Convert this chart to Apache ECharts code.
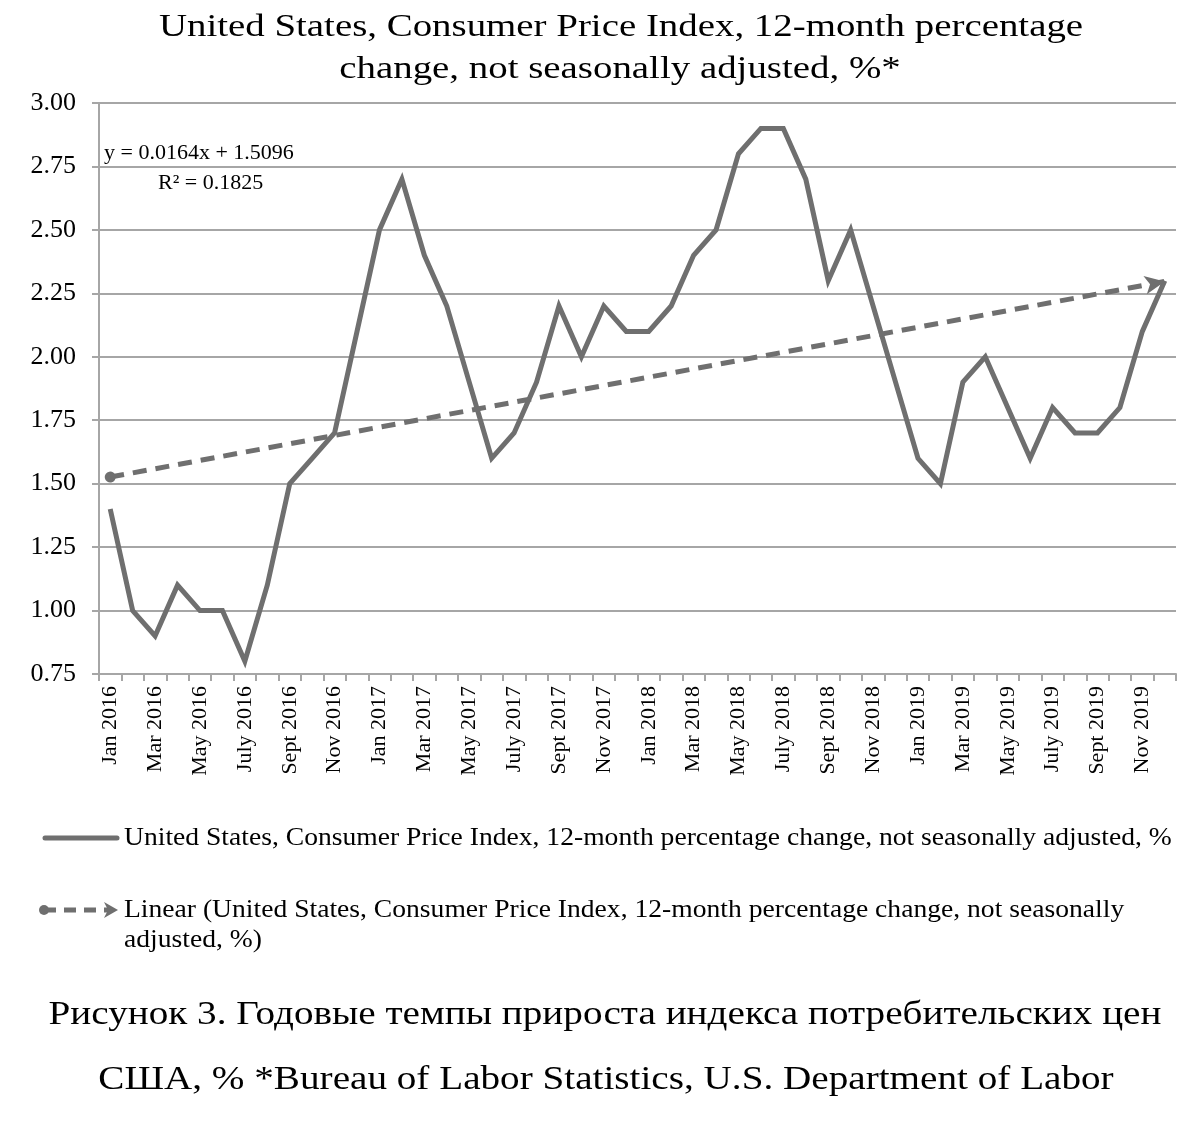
<!DOCTYPE html>
<html><head><meta charset="utf-8">
<script src="https://cdn.jsdelivr.net/npm/echarts@6/dist/echarts.min.js"></script>
<style>html,body{margin:0;padding:0;background:#fff}#c{width:1193px;height:1122px}</style>
</head><body><div id="c"></div>
<script>
const months = ['Jan','Feb','Mar','Apr','May','June','July','Aug','Sept','Oct','Nov','Dec'];
const years = [2016, 2017, 2018, 2019];
const categories = [];
years.forEach(y => months.forEach(m => categories.push(m + ' ' + y)));
const cpiValues = [
  1.4, 1.0, 0.9, 1.1, 1.0, 1.0, 0.8, 1.1, 1.5, 1.6, 1.7, 2.1,
  2.5, 2.7, 2.4, 2.2, 1.9, 1.6, 1.7, 1.9, 2.2, 2.0, 2.2, 2.1,
  2.1, 2.2, 2.4, 2.5, 2.8, 2.9, 2.9, 2.7, 2.3, 2.5, 2.2, 1.9,
  1.6, 1.5, 1.9, 2.0, 1.8, 1.6, 1.8, 1.7, 1.7, 1.8, 2.1, 2.3
];
const trendSlope = 0.0164;
const trendIntercept = 1.5096;
const yTicks = {min: 0.75, max: 3.0, interval: 0.25};
const seriesName = 'United States, Consumer Price Index, 12-month percentage change, not seasonally adjusted, %';
const trendNameLines = ['Linear (United States, Consumer Price Index, 12-month percentage change, not seasonally', 'adjusted, %)'];
const titleLines = ['United States, Consumer Price Index, 12-month percentage', 'change, not seasonally adjusted, %*'];
const captionLines = ['Рисунок 3. Годовые темпы прироста индекса потребительских цен', 'США, % *Bureau of Labor Statistics, U.S. Department of Labor'];

const trendStart = trendIntercept + trendSlope * 1;
const trendEnd = trendIntercept + trendSlope * categories.length;

const FONT = '"Liberation Serif", "Times New Roman", serif';
const GRAY = '#6f6f6f';

function txt(text, x, y, size, sx, align) {
  return {type: 'text', x: x, y: y, scaleX: sx,
    style: {text: text, x: 0, y: 0, font: size + 'px ' + FONT, fill: '#000', align: align || 'left', verticalAlign: 'middle'}};
}

const chart = echarts.init(document.getElementById('c'));
chart.setOption({
  animation: false,
  backgroundColor: '#fff',
  textStyle: {fontFamily: FONT},
  grid: {left: 99, right: 17, top: 103, bottom: 448},
  xAxis: {
    type: 'category', data: categories, boundaryGap: true,
    axisLine: {lineStyle: {color: '#a6a6a6', width: 2}},
    axisTick: {show: true, interval: 0, length: 7, lineStyle: {color: '#a6a6a6', width: 2}},
    axisLabel: {interval: 1, rotate: 90, fontFamily: FONT, fontSize: 22, color: '#000', margin: 12}
  },
  yAxis: {
    type: 'value', min: yTicks.min, max: yTicks.max, interval: yTicks.interval,
    axisLine: {show: true, lineStyle: {color: '#a6a6a6', width: 2}},
    axisTick: {show: true, length: 7, lineStyle: {color: '#a6a6a6', width: 2}},
    splitLine: {lineStyle: {color: '#a6a6a6', width: 2}},
    axisLabel: {formatter: v => v.toFixed(2), fontFamily: FONT, fontSize: 26, color: '#000', margin: 23}
  },
  series: [{
    name: seriesName, type: 'line', data: cpiValues, symbol: 'none',
    lineStyle: {color: GRAY, width: 5, join: 'miter'},
    markLine: {
      silent: true, animation: false,
      label: {show: false},
      lineStyle: {color: GRAY, width: 5, type: [14, 9]},
      data: [[
        {coord: [0, trendStart], symbol: 'circle', symbolSize: 11},
        {coord: [categories.length - 1, trendEnd], symbol: 'arrow', symbolSize: [14, 20]}
      ]]
    }
  }],
  graphic: [
    txt(titleLines[0], 621, 28, 32, 1.215, 'center'),
    txt(titleLines[1], 620, 70, 32, 1.215, 'center'),
    txt('y = 0.0164x + 1.5096', 104, 153, 22, 1, 'left'),
    txt('R² = 0.1825', 158, 183, 22, 1, 'left'),
    {type: 'line', shape: {x1: 45, y1: 838, x2: 117, y2: 838}, style: {stroke: GRAY, lineWidth: 5, lineCap: 'round'}},
    txt(seriesName, 124, 838, 25, 1.104, 'left'),
    {type: 'circle', shape: {cx: 44, cy: 910, r: 5}, style: {fill: GRAY}},
    {type: 'line', shape: {x1: 44, y1: 910, x2: 108, y2: 910}, style: {stroke: GRAY, lineWidth: 5, lineDash: [12, 8]}},
    {type: 'polygon', shape: {points: [[104, 902], [118, 910], [104, 918], [108, 910]]}, style: {fill: GRAY}},
    txt(trendNameLines[0], 124, 910, 25, 1.104, 'left'),
    txt(trendNameLines[1], 124, 940, 25, 1.104, 'left'),
    txt(captionLines[0], 605, 1015, 33, 1.187, 'center'),
    txt(captionLines[1], 606, 1080, 33, 1.187, 'center')
  ]
});
</script></body></html>
